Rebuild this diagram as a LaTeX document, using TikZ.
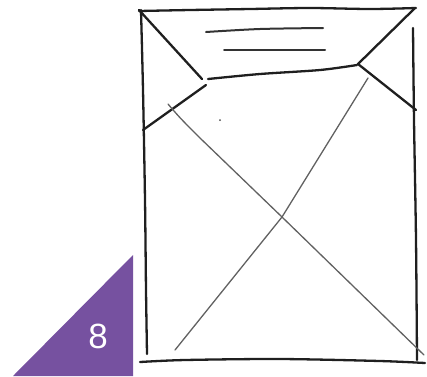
\documentclass[tikz,border=0pt]{standalone}
\usepackage{fontspec}
\setmainfont{Liberation Sans}
\definecolor{purp}{HTML}{7651A0}
\begin{document}
\begin{tikzpicture}[x=1pt,y=-1pt,
  pen/.style={line width=2.3pt, black!88, line cap=round, line join=round},
  midpen/.style={line width=2pt, black!80, line cap=round},
  fine/.style={line width=1.3pt, black!62, line cap=round}]
\useasboundingbox (0,0) rectangle (427,376);
% purple corner triangle
\fill[purp] (13,376) -- (133,255) -- (133,376) -- cycle;
\node[text=white, font=\fontsize{35}{35}\selectfont, inner sep=0pt] (num) at (98,336) {8};
% frame
\coordinate (tl) at (139,10);
\coordinate (tr) at (415,8);
\draw[pen] plot[smooth] coordinates {(139,11) (190,10) (250,9) (310,8) (370,9) (416,8)};
\draw[pen] plot[smooth] coordinates {(141,10) (143,90) (145,200) (146,290) (147,354)};
\draw[pen] plot[smooth] coordinates {(413,28) (414,120) (416,240) (417,360)};
\draw[pen] plot[smooth] coordinates {(140,362) (185,360) (280,359) (380,361) (425,363)};
% envelope flap
\coordinate (fl) at (202,79);
\coordinate (fr) at (358,64);
\draw[pen] (tl) -- (fl);
\draw[pen] (206,85) -- (143,130);
\draw[pen] plot[smooth] coordinates {(208,79) (260,74) (320,70) (357,65)};
\draw[pen] (tr) -- (fr) -- (416,110);
% text lines
\draw[midpen] plot[smooth] coordinates {(206,32) (260,29) (323,28)};
\draw[midpen] (224,50) -- (325,50);
% cross
\coordinate (cx) at (282,217);
\draw[fine] (168,104) .. controls (180,118) .. (200,138) -- (cx) -- (424,355);
\draw[fine] (368,78) -- (cx) -- (175,350);
\fill[black!70] (220,120) circle (1pt);
\end{tikzpicture}
\end{document}
